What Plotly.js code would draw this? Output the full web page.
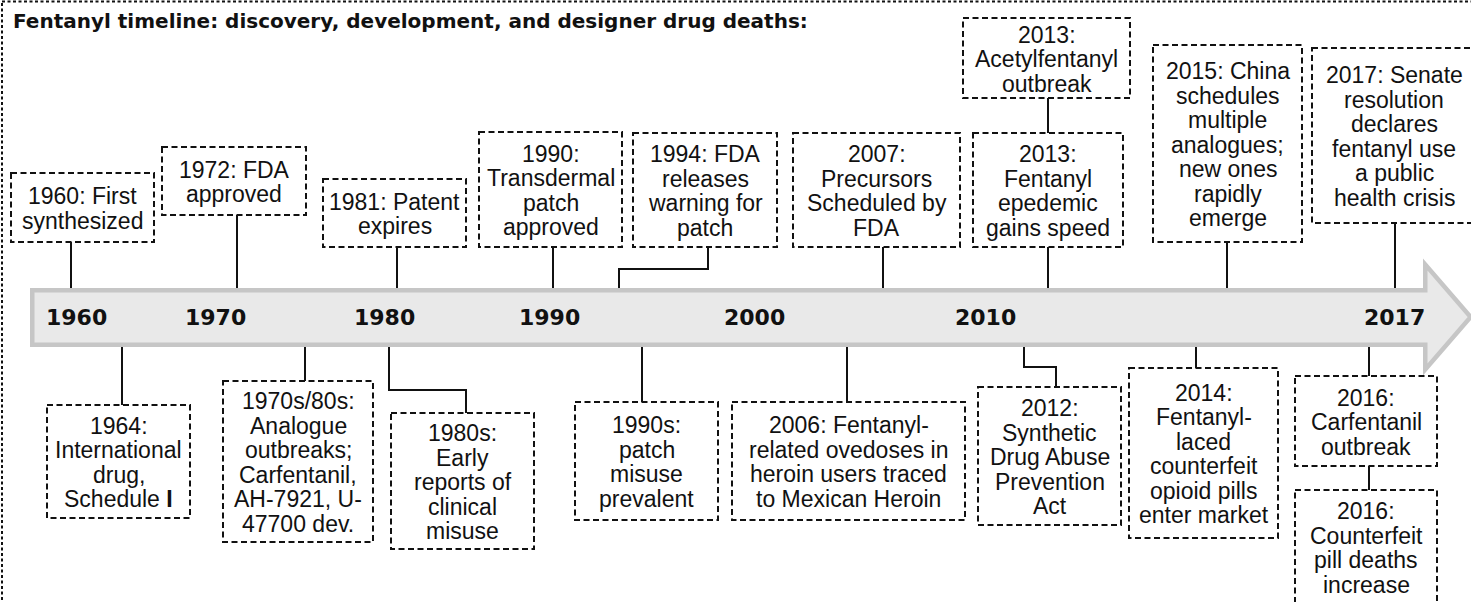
<!DOCTYPE html>
<html>
<head>
<meta charset="utf-8">
<script src="https://cdn.plot.ly/plotly-3.0.1.min.js"></script>
<style>
html,body{margin:0;padding:0;background:#fff;}
#chart{width:1471px;height:602px;}
</style>
</head>
<body>
<div id="chart"></div>
<script>
// ---------------- DATA ----------------
const chartTitle = "Fentanyl timeline: discovery, development, and designer drug deaths:";

const axisYears = ["1960", "1970", "1980", "1990", "2000", "2010", "2017"];

const eventLabels = [
  "1960: First<br>synthesized",
  "1972: FDA<br>approved",
  "1981: Patent<br>expires",
  "1990:<br>Transdermal<br>patch<br>approved",
  "1994: FDA<br>releases<br>warning for<br>patch",
  "2007:<br>Precursors<br>Scheduled by<br>FDA",
  "2013:<br>Fentanyl<br>epedemic<br>gains speed",
  "2013:<br>Acetylfentanyl<br>outbreak",
  "2015: China<br>schedules<br>multiple<br>analogues;<br>new ones<br>rapidly<br>emerge",
  "2017: Senate<br>resolution<br>declares<br>fentanyl use<br>a public<br>health crisis",
  "1964:<br>International<br>drug,<br>Schedule <b>I</b>",
  "1970s/80s:<br>Analogue<br>outbreaks;<br>Carfentanil,<br>AH-7921, U-<br>47700 dev.",
  "1980s:<br>Early<br>reports of<br>clinical<br>misuse",
  "1990s:<br>patch<br>misuse<br>prevalent",
  "2006: Fentanyl-<br>related ovedoses in<br>heroin users traced<br>to Mexican Heroin",
  "2012:<br>Synthetic<br>Drug Abuse<br>Prevention<br>Act",
  "2014:<br>Fentanyl-<br>laced<br>counterfeit<br>opioid pills<br>enter market",
  "2016:<br>Carfentanil<br>outbreak",
  "2016:<br>Counterfeit<br>pill deaths<br>increase"
];

// ---------------- LAYOUT (diagram geometry, in canvas units) ----------------
const W = 1471, H = 602;
const yearLabelX = [76, 215, 384, 549, 754, 985, 1394];
const bandTop = 288, bandBottom = 347, bandLeft = 30, headX = 1423, headTop = 261, headBottom = 373, tipX = 1474, tipY = 317;

// box: [x0, x1, y0, y1]; anchor: x where connector meets band; attach: x where it meets the box;
// elbow: y of horizontal jog; parent: index of box it connects to instead of band
const boxLayout = [
  {box:[11,154,173,242], anchor:71},
  {box:[162,306,147,215], anchor:237},
  {box:[323,466,179,247], anchor:397},
  {box:[479,622,132,247], anchor:553},
  {box:[633,777,133,247], anchor:619, attach:708, elbow:269},
  {box:[793,960,133,247], anchor:883},
  {box:[973,1123,133,247], anchor:1048},
  {box:[963,1130,18,98], parent:6, attach:1048},
  {box:[1153,1302,45,242], anchor:1227},
  {box:[1312,1476,48,223], anchor:1395},
  {box:[47,190,405,518], anchor:122},
  {box:[223,373,381,542], anchor:305},
  {box:[391,534,413,549], anchor:389, attach:466, elbow:390},
  {box:[575,718,402,520], anchor:642},
  {box:[732,965,402,520], anchor:847},
  {box:[978,1121,387,525], anchor:1024, attach:1056, elbow:367},
  {box:[1129,1278,368,538], anchor:1196},
  {box:[1295,1437,376,466], anchor:1369},
  {box:[1295,1437,490,604], parent:17, attach:1369}
];

const LINE_PITCH = 24.5, TEXT_OFFSET = 1;
const textFont = {family: "Liberation Sans, Arial, sans-serif", size: 23, color: "#111"};
const boldFont = {family: "DejaVu Sans, sans-serif", size: 22, color: "#111"};

// ---------------- BUILD ----------------
const shapes = [];
const annotations = [];

// outer dashed frame
shapes.push({type:"rect", xref:"x", yref:"y", x0:2, x1:W+10, y0:1.5, y1:H+10,
  line:{color:"#111", width:2, dash:"3px,2.5px"}, fillcolor:"rgba(0,0,0,0)", layer:"above"});

// connectors
const cx = [], cy = [];
boxLayout.forEach((e, i) => {
  const [x0, x1, y0, y1] = e.box;
  const top = y1 <= bandTop;
  const attach = e.attach !== undefined ? e.attach : e.anchor;
  if (e.parent !== undefined) {
    const p = boxLayout[e.parent].box;
    if (top) { cx.push(attach, attach); cy.push(y1, p[2]); }
    else { cx.push(attach, attach); cy.push(p[3], y0); }
  } else if (top) {
    if (e.elbow !== undefined) { cx.push(attach, attach, e.anchor, e.anchor); cy.push(y1, e.elbow, e.elbow, bandTop + 2); }
    else { cx.push(attach, attach); cy.push(y1, bandTop + 2); }
  } else {
    if (e.elbow !== undefined) { cx.push(e.anchor, e.anchor, attach, attach); cy.push(bandBottom - 2, e.elbow, e.elbow, y0); }
    else { cx.push(attach, attach); cy.push(bandBottom - 2, y0); }
  }
  cx.push(null); cy.push(null);
});

// arrow band
const bw = 4.5, h = bw / 2;
const arrowPath = `M${bandLeft+h},${bandTop+h} L${headX+h},${bandTop+h} L${headX+h},${headTop+h*1.6} L${tipX-h*1.5},${tipY} L${headX+h},${headBottom-h*1.6} L${headX+h},${bandBottom-h} L${bandLeft+h},${bandBottom-h} Z`;
shapes.push({type:"path", xref:"x", yref:"y", path:arrowPath, fillcolor:"#e9e9e9",
  line:{color:"#c6c6c6", width:bw}, layer:"above"});

// boxes + texts
boxLayout.forEach((e, i) => {
  const [x0, x1, y0, y1] = e.box;
  shapes.push({type:"rect", xref:"x", yref:"y", x0:x0, x1:x1, y0:y0, y1:y1,
    line:{color:"#111", width:2, dash:"6px,3.5px"}, fillcolor:"rgba(0,0,0,0)", layer:"above"});
  const lines = eventLabels[i].split("<br>");
  const xc = (x0 + x1) / 2, yc = (y0 + y1) / 2;
  lines.forEach((t, k) => {
    annotations.push({x: xc, y: yc + (k - (lines.length - 1) / 2) * LINE_PITCH + TEXT_OFFSET,
      xref:"x", yref:"y", text:t, showarrow:false, xanchor:"center", yanchor:"middle",
      font:textFont, borderpad:0});
  });
});

// year labels on band
axisYears.forEach((yr, i) => {
  annotations.push({x: yearLabelX[i], y: (bandTop + bandBottom) / 2 - 0.5, xref:"x", yref:"y",
    text:"<b>" + yr + "</b>", showarrow:false, xanchor:"center", yanchor:"middle",
    font:boldFont, borderpad:0});
});

// title
annotations.push({x: 12, y: 21, xref:"x", yref:"y", text:"<b>" + chartTitle + "</b>",
  showarrow:false, xanchor:"left", yanchor:"middle",
  font:{family:"DejaVu Sans, sans-serif", size:20, color:"#111"}, borderpad:0});

const traces = [{
  type:"scatter", mode:"lines", x:cx, y:cy, connectgaps:false,
  line:{color:"#111", width:2}, hoverinfo:"skip", showlegend:false
}];

const layout = {
  width: W, height: H,
  margin:{l:0, r:0, t:0, b:0, pad:0},
  paper_bgcolor:"#fff", plot_bgcolor:"#fff",
  xaxis:{range:[0, W], visible:false, fixedrange:true},
  yaxis:{range:[H, 0], visible:false, fixedrange:true},
  shapes: shapes,
  annotations: annotations,
  showlegend:false
};

Plotly.newPlot("chart", traces, layout, {staticPlot:true, displayModeBar:false});
</script>
</body>
</html>
